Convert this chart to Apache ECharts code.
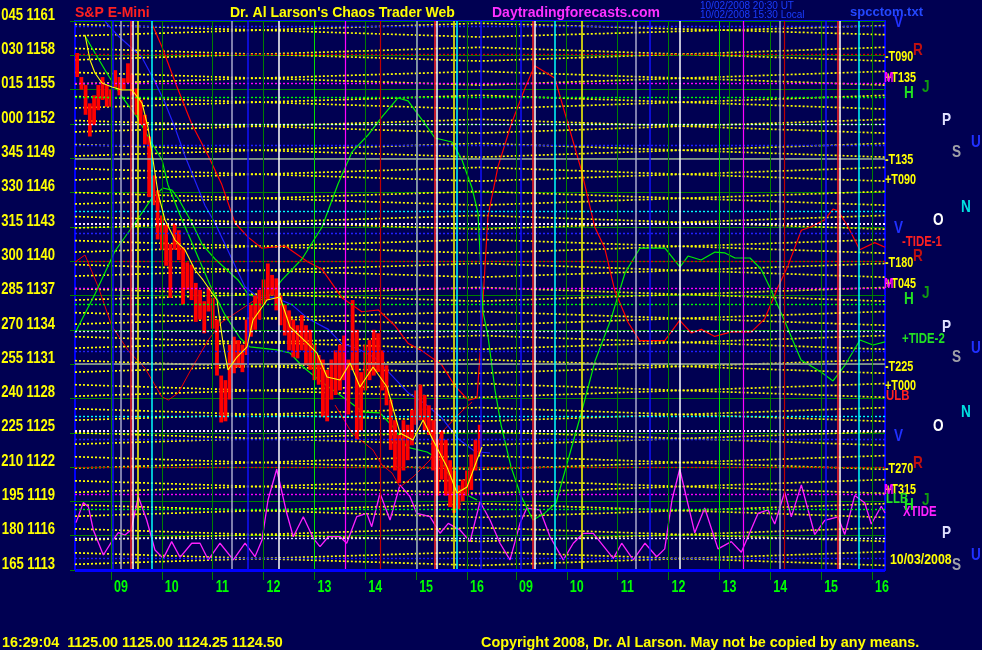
<!DOCTYPE html>
<html><head><meta charset="utf-8">
<script src="https://cdn.jsdelivr.net/npm/echarts@6/dist/echarts.min.js"></script>
<style>html,body{margin:0;padding:0;background:#000052;}#c{width:982px;height:650px;}</style>
</head><body><div id="c"></div>
<script>
// ---------- axis data ----------
const X_MIN = 8.292, X_MAX = 24.218, DAY2 = 7.963, T_MID = 16.255;
const sessionHours = [9,10,11,12,13,14,15,16];
const xTickLabels = ['09','10','11','12','13','14','15','16','09','10','11','12','13','14','15','16'];
const yTickPrices = [1161,1158,1155,1152,1149,1146,1143,1140,1137,1134,1131,1128,1125,1122,1119,1116,1113];
const yTickDegrees = ['045','030','015','000','345','330','315','300','285','270','255','240','225','210','195','180','165'];

// ---------- price bars (5 min, from 08:20 day 1) ----------
const barStartHour = 8 + 20/60, barStepHour = 5/60;
const barHigh = [1158.2,1156.1,1155.4,1153.8,1154.5,1155.4,1156.1,1155.4,1155.0,1156.7,1156.1,1156.0,1157.3,1156.3,1155.1,1154.1,1152.8,1150.9,1147.5,1146.2,1144.0,1143.2,1141.5,1143.3,1142.7,1141.2,1139.9,1139.7,1138.1,1137.5,1136.5,1137.7,1136.8,1134.9,1130.0,1129.6,1132.7,1133.4,1133.1,1132.7,1134.9,1136.2,1137.0,1137.5,1138.4,1139.8,1138.8,1138.5,1137.0,1136.2,1135.7,1134.9,1134.4,1135.3,1134.4,1134.0,1132.7,1131.8,1131.4,1130.5,1131.4,1132.2,1132.7,1133.5,1131.4,1136.6,1134.0,1130.3,1132.7,1133.1,1134.0,1133.7,1132.2,1130.9,1127.9,1126.1,1124.8,1126.1,1125.7,1127.0,1128.7,1129.2,1128.3,1127.4,1126.1,1124.4,1125.2,1124.4,1122.6,1121.7,1120.4,1120.9,1121.7,1123.1,1124.4,1125.7];
const barLow  = [1156.1,1155.0,1152.8,1150.9,1151.9,1153.2,1154.1,1153.5,1153.5,1155.2,1154.5,1155.0,1155.6,1154.5,1152.8,1151.9,1150.2,1145.6,1144.9,1141.9,1141.0,1139.6,1136.8,1141.0,1140.1,1136.2,1137.5,1136.6,1134.7,1134.9,1133.7,1135.6,1134.1,1130.0,1125.9,1126.0,1127.9,1130.2,1130.7,1130.3,1131.8,1133.4,1134.0,1134.9,1136.2,1136.6,1137.0,1135.7,1134.4,1133.5,1132.2,1131.6,1131.5,1132.2,1130.9,1130.5,1129.6,1129.2,1126.4,1126.0,1127.9,1128.3,1128.7,1129.6,1126.6,1130.5,1124.4,1125.2,1128.7,1129.6,1130.0,1130.3,1128.7,1127.4,1123.5,1121.7,1120.6,1121.7,1122.6,1123.9,1125.7,1126.1,1125.2,1124.8,1121.7,1119.5,1120.9,1119.5,1118.5,1118.0,1118.3,1119.0,1119.5,1120.0,1121.7,1123.1];

// ---------- curves [hour, price] ----------
const tide1 = [[9.800,1160.8],[9.997,1158.79],[10.258,1155.69],[10.587,1152.0],[10.913,1149.2],[11.177,1146.72],[11.438,1143.34],[11.700,1142.08],[11.963,1141.15],[12.421,1141.33],[12.873,1139.93],[13.143,1139.32],[13.536,1136.83],[13.929,1135.58],[14.256,1135.73],[14.584,1134.35],[14.846,1132.80],[15.109,1132.18],[15.502,1130.94],[15.764,1129.09],[16.025,1127.85],[16.196,1128.04],[16.275,1133.1],[16.314,1136.6],[16.412,1143.95],[16.609,1148.27],[16.871,1152.0],[17.134,1155.07],[17.331,1157.08],[17.724,1156.02],[17.986,1152.0],[18.247,1147.97],[18.511,1143.0],[18.707,1141.15],[18.904,1137.44],[19.165,1134.66],[19.395,1133.05],[19.887,1133.05],[20.182,1134.82],[20.410,1133.72],[20.607,1134.04],[20.870,1133.42],[21.196,1133.82],[21.590,1133.82],[21.853,1134.96],[22.115,1137.74],[22.311,1139.61],[22.573,1142.70],[22.769,1143.01],[23.033,1143.63],[23.196,1144.56],[23.294,1144.41],[23.491,1143.01],[23.721,1141.0],[24.016,1141.62],[24.218,1141.22]];
const redWaveLeft = [[8.292,1139.93],[8.489,1140.54],[8.750,1137.74],[9.014,1134.35],[9.340,1132.18],[9.669,1130.64],[9.997,1128.16],[10.127,1127.86],[10.323,1128.48],[10.587,1130.64],[10.913,1133.11],[11.177,1134.66],[11.536,1135.73],[11.831,1136.61]];
const redWaveLow = [[13.404,1127.43],[13.738,1124.98],[14.151,1123.49],[14.328,1122.18],[14.525,1121.48],[14.682,1120.26],[14.938,1121.13],[15.272,1122.62],[15.508,1125.07],[15.901,1126.90],[16.098,1127.69]];
const tide2 = [[8.292,1133.72],[8.685,1137.13],[9.079,1140.89],[9.472,1143.34],[9.806,1145.52],[10.022,1146.40],[10.199,1146.22],[10.317,1145.52],[10.593,1143.34],[10.789,1141.50],[11.045,1140.19],[11.497,1138.36],[11.694,1137.13],[12.028,1136.52],[12.362,1138.36],[12.755,1140.19],[13.149,1142.99],[13.463,1146.75],[13.739,1149.55],[14.053,1151.03],[14.328,1152.61],[14.643,1154.27],[14.840,1154.01],[15.174,1152.0],[15.370,1150.77],[15.705,1150.42],[15.901,1148.85],[16.098,1146.40],[16.216,1144.21],[16.314,1135.56],[16.412,1133.46],[16.550,1128.74],[16.668,1125.68],[16.865,1122.01],[17.062,1119.47],[17.297,1117.37],[17.533,1117.99],[17.750,1118.86],[17.986,1122.62],[18.241,1126.64],[18.517,1131.27],[18.831,1134.95],[19.106,1138.97],[19.401,1141.15],[19.893,1141.15],[20.188,1139.49],[20.345,1140.45],[20.601,1140.10],[20.876,1140.80],[21.073,1140.72],[21.269,1140.28],[21.564,1140.28],[21.780,1139.32],[21.977,1137.48],[22.253,1134.68],[22.567,1131.36],[22.960,1130.31],[23.196,1129.53],[23.432,1130.92],[23.727,1133.11],[23.983,1132.67],[24.218,1132.94]];
const greenSlow = [[8.489,1159.69],[8.685,1158.20],[8.941,1156.28],[9.216,1154.36],[9.511,1152.61],[9.767,1150.60],[10.003,1148.85],[10.121,1146.66],[10.357,1144.04],[10.652,1140.98],[10.947,1137.92],[11.241,1135.30],[11.536,1133.28],[11.733,1132.50],[12.264,1132.24],[12.519,1131.97],[12.775,1130.75],[13.168,1129.35],[13.640,1127.86],[13.955,1126.81],[14.289,1126.73],[14.545,1125.50],[14.820,1123.75],[15.213,1123.32],[15.469,1122.62],[15.666,1121.13],[15.921,1119.73],[16.196,1119.12]];
const blueWave = [[8.882,1160.96],[9.138,1159.71],[9.604,1157.85],[9.865,1155.69],[10.062,1153.83],[10.258,1151.67],[10.455,1149.20],[10.652,1147.03],[10.848,1144.87],[11.045,1143.34],[11.373,1140.23],[11.635,1137.74],[11.896,1136.83],[12.225,1136.83],[12.553,1136.20],[12.879,1134.96],[13.273,1134.04],[13.536,1132.80],[13.862,1132.33],[14.191,1131.56],[14.519,1130.01],[14.846,1128.48],[15.174,1127.54],[15.502,1126.31],[15.829,1124.45],[16.157,1123.36],[16.452,1123.23]];
const yellowFast = [[8.489,1159.78],[8.587,1157.59],[8.685,1156.45],[8.823,1155.58],[9.020,1155.23],[9.216,1154.97],[9.413,1154.97],[9.610,1153.83],[9.727,1151.73],[9.865,1147.71],[9.924,1145.96],[10.062,1143.60],[10.258,1141.85],[10.455,1140.98],[10.652,1139.23],[10.809,1138.36],[11.084,1136.61],[11.202,1132.85],[11.300,1130.49],[11.477,1131.62],[11.674,1132.50],[11.792,1134.86],[12.067,1136.61],[12.323,1136.87],[12.519,1134.25],[12.854,1132.85],[13.050,1131.97],[13.247,1129.87],[13.503,1129.61],[13.699,1131.10],[13.896,1129.0],[14.152,1130.75],[14.427,1129.0],[14.682,1124.98],[14.938,1124.37],[15.135,1126.12],[15.331,1124.37],[15.606,1122.01],[15.803,1119.73],[16.0,1120.26],[16.196,1122.62],[16.295,1123.75]];
const xtide = [[8.312,1117.14],[8.455,1118.89],[8.554,1118.54],[8.652,1116.50],[8.849,1114.31],[9.014,1115.48],[9.144,1116.26],[9.275,1116.06],[9.393,1116.50],[9.537,1119.41],[9.702,1117.37],[9.865,1114.75],[10.028,1114.02],[10.193,1115.48],[10.357,1114.11],[10.587,1115.34],[10.750,1115.34],[10.913,1113.88],[11.143,1115.34],[11.405,1113.88],[11.635,1115.34],[11.831,1114.16],[11.969,1115.62],[12.087,1119.12],[12.258,1121.81],[12.455,1117.96],[12.584,1115.91],[12.781,1117.66],[12.978,1115.77],[13.109,1115.04],[13.273,1115.91],[13.503,1115.91],[13.634,1115.34],[13.831,1117.66],[14.028,1117.96],[14.126,1116.79],[14.289,1119.71],[14.486,1117.37],[14.682,1120.44],[14.879,1119.41],[15.011,1117.96],[15.272,1117.66],[15.469,1116.21],[15.632,1117.08],[15.862,1116.50],[16.059,1115.48],[16.255,1118.97],[16.452,1117.37],[16.648,1115.34],[16.845,1113.88],[17.042,1117.08],[17.173,1118.40],[17.435,1118.25],[17.632,1115.91],[17.893,1113.88],[18.090,1115.34],[18.287,1116.21],[18.483,1116.21],[18.876,1114.02],[19.041,1115.34],[19.269,1113.88],[19.499,1115.34],[19.729,1114.16],[19.887,1114.85],[20.030,1119.12],[20.182,1121.83],[20.477,1116.25],[20.673,1118.42],[20.935,1114.85],[21.196,1115.48],[21.393,1114.55],[21.721,1117.95],[21.918,1118.25],[22.050,1117.02],[22.246,1119.82],[22.376,1117.64],[22.573,1120.44],[22.836,1116.10],[23.033,1117.33],[23.294,1117.64],[23.426,1116.10],[23.622,1119.51],[23.819,1118.88],[23.949,1117.02],[24.145,1118.57],[24.218,1117.98]];

// ---------- T lines: price at start, day-1 close, end ----------
const tLines = [[1160.7,1159.6,1160.6],[1159.7,1160.8,1159.8],[1158.6,1157.5,1158.7],[1157.6,1158.7,1157.5],[1156.5,1155.4,1156.6],[1155.5,1156.6,1155.4],[1154.4,1153.3,1154.5],[1153.4,1154.5,1153.3],[1152.3,1151.2,1152.4],[1151.3,1152.4,1151.2],[1150.2,1149.1,1150.3],[1149.2,1150.3,1149.1],[1148.1,1147.0,1148.2],[1147.1,1148.2,1147.0],[1146.0,1144.9,1146.1],[1145.0,1146.1,1144.9],[1143.9,1142.8,1144.0],[1142.9,1144.0,1142.8],[1141.8,1140.7,1141.9],[1140.8,1141.9,1140.7],[1139.7,1138.6,1139.8],[1138.7,1139.8,1138.6],[1137.6,1136.5,1137.7],[1136.6,1137.7,1136.5],[1135.5,1134.4,1135.6],[1134.5,1135.6,1134.4],[1133.4,1132.3,1133.5],[1132.4,1133.5,1132.3],[1131.3,1130.2,1131.4],[1130.3,1131.4,1130.2],[1129.2,1128.1,1129.3],[1128.2,1129.3,1128.1],[1127.1,1126.0,1127.2],[1126.1,1127.2,1126.0],[1125.0,1123.9,1125.1],[1124.0,1125.1,1123.9],[1122.9,1121.8,1123.0],[1121.9,1123.0,1121.8],[1120.8,1119.7,1120.9],[1119.8,1120.9,1119.7],[1118.7,1117.6,1118.8],[1117.7,1118.8,1117.6],[1116.6,1115.5,1116.7],[1115.6,1116.7,1115.5],[1114.5,1113.4,1114.6],[1113.5,1114.6,1113.4]];

// ---------- planet price levels ----------
const levelV = [1160.5,1142.4,1124.4];
const levelR = [1158.1,1140.0,1122.0];
const levelM = [1155.6,1137.6,1119.6];
const levelH = [1154.3,1136.2,1118.3];
const levelP = [1152.0,1133.9,1115.8];
const levelU = [1150.1,1132.1,1114.0];
const levelS = [1149.0,1131.0];
const levelN = [1144.4,1126.4];
const levelO = [1143.3,1125.2];

// ---------- vertical time lines (hours, day 2 offset) ----------
const vBlue = [9.045,11.680,16.275,17.056,19.604,23.052];
const vGray = [9.197,11.385,15.011,19.309,22.148];
const vRedBright = [9.393,15.370,17.297,23.294];
const vRedDark = [14.289,22.233];
const vWhite = [9.433,12.289,15.410,17.337,20.182,23.333];
const vYellow = [9.517,15.730,18.255];
const vCyan = [9.812,15.797,17.724,23.701];
const vMagenta = [13.601,21.440];
const vGreenBright = [13, 20.963];
const vGreenExtra = [21.165];

// ---------- in-plot labels [text, hour, price] ----------
const lblYellow = [['T 90',9.727,1156.7],['T 0',15.92,1156.7],['T 90',18.477,1156.7],['L',16.61,1124.6],['10/02',12.578,1113.9],['10/03',20.54,1113.9]];
const lblWhite = [['O',9.486,1147.1],['O',15.469,1147.1],['O',17.415,1147.1],['O',23.392,1147.1],['P',12.356,1142.3],['P',20.26,1142.3],['A',12.388,1137.2]];
const lblRed = [['C',9.505,1144.65],['C',15.48,1144.65],['C',17.43,1144.65],['C',23.406,1144.65]];
const lblDarkRed = [['R',14.387,1130.2],['R',22.311,1130.2]];
const lblCyan = [['N',9.898,1139.9],['N',15.876,1139.9],['N',17.80,1139.9],['N',23.785,1139.9]];
const lblBlue = [['U',11.753,1137.4],['U',19.676,1137.4],['U',15.14,1125.4],['V',9.079,1125.4],['V',17.12,1125.4],['V',23.10,1125.4]];
const lblGray = [['S',11.471,1135.0],['S',19.395,1135.0]];
const lblDarkGreen = [['J',13.339,1132.65],['J',21.216,1132.65]];
const lblGreen = [['H',13.09,1127.85],['H',21.05,1127.85]];
const lblMagenta = [['M',13.699,1123.0],['M',21.52,1123.0]];

// ---------- texts ----------
const titleParts = ['S&P E-Mini', "Dr. Al Larson's Chaos Trader Web", 'Daytradingforecasts.com'];
const stampLines = ['10/02/2008 20:30 UT', '10/02/2008 15:30 Local'];
const fileName = 'spcctom.txt';
const quoteLine = '16:29:04  1125.00 1125.00 1124.25 1124.50';
const copyrightLine = 'Copyright 2008, Dr. Al Larson. May not be copied by any means.';
const rightTags = ['-T090','+T135','-T135','+T090','-TIDE-1','-T180','+T045','+TIDE-2','-T225','+T000','ULB','-T270','+T315','LLB','XTIDE','10/03/2008'];

// =============== build ===============
const SANS = "'Liberation Sans',Arial,sans-serif";
const xTickVals = sessionHours.concat(sessionHours.map(h => h + DAY2));

const series = [];
tLines.forEach(l => series.push({
  type:'line', data:[[X_MIN,l[0]],[T_MID,l[1]],[X_MAX,l[2]]], showSymbol:false, silent:true, z:1,
  lineStyle:{color:'#ffff00', width:1.7, type:[2,2]}, animation:false
}));

const ml = [];
const hLine = (vals, st) => vals.forEach(v => ml.push({yAxis:v, lineStyle:st}));
const vLine = (vals, st) => vals.forEach(v => ml.push({xAxis:v, lineStyle:st}));
hLine(levelV, {color:'#2020ff', width:1.4, type:[2,2]});
hLine(levelU, {color:'#2020ff', width:1.4, type:[2,2]});
hLine(levelR, {color:'#e00000', width:1.4, type:[2,2]});
hLine(levelM, {color:'#ff00ff', width:1.4, type:[2,2]});
hLine(levelH, {color:'#00ff00', width:1.4, type:[2,2]});
hLine(levelP, {color:'#e8e8ff', width:1.4, type:[2,2]});
hLine(levelS, {color:'#a0a0a8', width:1.5, type:'solid'});
hLine(levelN, {color:'#00ffff', width:1.4, type:[2,2]});
hLine(levelO, {color:'#ffe8ff', width:2, type:[2,2]});
vLine(xTickVals, {color:'#008000', width:1, type:'solid'});
vLine(vGreenBright, {color:'#00e000', width:1, type:'solid'});
vLine(vGreenExtra, {color:'#008000', width:1, type:'solid'});
vLine(vBlue, {color:'#1010ff', width:1.5, type:'solid'});
vLine(vGray, {color:'#a8a8cc', width:1.5, type:'solid'});
vLine(vRedBright, {color:'#ff2020', width:1.5, type:'solid'});
vLine(vRedDark, {color:'#c00000', width:1.2, type:'solid'});
vLine(vWhite, {color:'#ffffff', width:1.5, type:'solid'});
vLine(vYellow, {color:'#ffff00', width:1.5, type:'solid'});
vLine(vCyan, {color:'#00ffff', width:1.5, type:'solid'});
vLine(vMagenta, {color:'#ff00ff', width:1.2, type:'solid'});
ml.push({xAxis:X_MAX, lineStyle:{color:'#0000ff', width:3, type:'solid'}});
ml.push({yAxis:1113, lineStyle:{color:'#0000ff', width:3, type:'solid'}});
series.push({type:'line', data:[[X_MIN,1113]], showSymbol:false, lineStyle:{opacity:0}, z:2, silent:true, animation:false,
  markLine:{silent:true, symbol:['none','none'], label:{show:false}, animation:false, data:ml}});

const curve = (data, color, width, z) => series.push({type:'line', data, showSymbol:false, silent:true, z:z || 3, animation:false, lineStyle:{color, width}});
curve(xtide, '#ff20ff', 1.3);
curve(redWaveLeft, '#ee0000', 1);
curve(redWaveLow, '#ee0000', 1);
curve(tide1, '#ff0000', 1.2);
curve(blueWave, '#2020ff', 1.2);
curve(tide2, '#00ee00', 1.2);
curve(greenSlow, '#00ee00', 1.2);

const bars = barHigh.map((h, i) => [barStartHour + i * barStepHour, barLow[i], h]);
series.push({type:'custom', z:4, silent:true, animation:false, data:bars, encode:{x:0, y:[1,2]},
  renderItem:(params, api) => {
    const x = api.value(0);
    const a = api.coord([x, api.value(2)]);
    const b = api.coord([x, api.value(1)]);
    return {type:'rect', shape:{x:a[0]-1.9, y:a[1], width:3.8, height:Math.max(b[1]-a[1], 1.5)}, style:{fill:'#ff0000'}};
  }});
curve(yellowFast, '#ffff00', 1.1, 5);

const labelSeries = (list, color, size) => series.push({type:'scatter', z:6, silent:true, animation:false, symbolSize:1,
  itemStyle:{opacity:0},
  data:list.map(l => ({value:[l[1], l[2]], name:l[0]})),
  label:{show:true, position:'inside', formatter:p => p.name, color, fontFamily:SANS, fontWeight:'bold', fontSize:size}});
labelSeries(lblYellow, '#ffff00', 14);
labelSeries(lblWhite, '#ffffff', 14);
labelSeries(lblRed, '#ff2020', 13);
labelSeries(lblDarkRed, '#c01818', 13);
labelSeries(lblCyan, '#00e8e8', 13);
labelSeries(lblBlue, '#2040ff', 13);
labelSeries(lblGray, '#a0a0a8', 13);
labelSeries(lblDarkGreen, '#109a10', 13);
labelSeries(lblGreen, '#20e020', 14);
labelSeries(lblMagenta, '#ff20ff', 14);

const chart = echarts.init(document.getElementById('c'));
chart.setOption({
  backgroundColor:'#000052',
  animation:false,
  grid:{left:75, right:97, top:21, bottom:80, show:true, borderColor:'#0000ff', borderWidth:2, containLabel:false, outerBoundsMode:'none'},
  xAxis:{type:'value', min:X_MIN, max:X_MAX, axisLine:{show:false}, splitLine:{show:false},
    axisTick:{show:true, customValues:xTickVals, length:10, lineStyle:{color:'#008000'}},
    axisLabel:{show:false}},
  yAxis:{type:'value', min:1113, max:1161, interval:3, axisLine:{show:false},
    axisTick:{show:true, length:5, lineStyle:{color:'#008000'}},
    splitLine:{show:true, lineStyle:{color:'#008000', width:1}},
    axisLabel:{show:false}},
  series
});

// ---------- text layer (tick labels placed through the axes) ----------
const graphic = [];
const txt = (text, x, y, fill, font, align, sx) => graphic.push({type:'text', x, y, scaleX: sx || 1, silent:true, z:10,
  style:{text, x:0, y:0, fill, font, align: align || 'left', verticalAlign:'middle', textAlign: align || 'left', textVerticalAlign:'middle'}});
yTickPrices.forEach((p, i) => {
  const pt = chart.convertToPixel({gridIndex:0}, [X_MIN, p]);
  txt(yTickDegrees[i] + ' ' + p, pt[0] - 20, pt[1] - 6, '#ffff00', 'bold 17px ' + SANS, 'right', 0.77);
});
xTickVals.forEach((v, i) => {
  const pt = chart.convertToPixel({gridIndex:0}, [v, 1113]);
  txt(xTickLabels[i], pt[0] + 3, pt[1] + 18, '#00ff00', 'bold 16px ' + SANS, 'left', 0.78);
});
const TF = 'bold 14px ' + SANS;
txt(titleParts[0], 75, 13, '#ff2020', TF);
txt(titleParts[1], 230, 13, '#ffff00', TF);
txt(titleParts[2], 492, 13, '#ff30ff', TF);
txt(stampLines[0], 700, 6, '#1a3cff', '10px ' + SANS);
txt(stampLines[1], 700, 15, '#1a3cff', '10px ' + SANS);
txt(fileName, 850, 12, '#2448ff', 'bold 13px ' + SANS);
txt(quoteLine, 2, 643, '#ffff00', 'bold 14.3px ' + SANS);
txt(copyrightLine, 481, 643, '#ffff00', 'bold 14.4px ' + SANS);

const RF = 'bold 15px ' + SANS;
const tagPos = [[885,57],[885,78],[885,160],[885,180],[902,242],[885,263],[885,284],[902,339],[885,367],[885,386],[886,396],[885,469],[885,490],[886,499],[903,512],[890,560]];
const tagCol = ['#ffff00','#ffff00','#ffff00','#ffff00','#ff2020','#ffff00','#ffff00','#22e022','#ffff00','#ffff00','#ff2020','#ffff00','#ffff00','#22e022','#ff20ff','#ffff00'];
const tagScale = [0.72,0.72,0.72,0.72,0.76,0.72,0.72,0.76,0.72,0.72,0.76,0.72,0.72,0.76,0.76,0.82];
rightTags.forEach((t, i) => txt(t, tagPos[i][0], tagPos[i][1], tagCol[i], RF, 'left', tagScale[i]));
[78, 284, 490].forEach(y => txt('M', 884, y, '#ff00ff', RF, 'left', 0.76));

const sideLetters = ['V','R','J','H','P','U','S','N','O'];
const sidePos = {V:[894,[22,228,436]], R:[913,[50,256,463]], J:[922,[87,293,500]], H:[904,[93,299,505]], P:[942,[120,327,533]], U:[971,[142,348,555]], S:[952,[152,357,565]], N:[961,[207,412]], O:[933,[220,426]]};
const sideCol = {V:'#2030ff', R:'#c01010', J:'#109a10', H:'#22e022', P:'#e0e0ff', U:'#2030ff', S:'#a0a0a8', N:'#00e0e0', O:'#ffffff'};
sideLetters.forEach(k => sidePos[k][1].forEach(y => txt(k, sidePos[k][0], y, sideCol[k], 'bold 17px ' + SANS, 'left', 0.8)));

chart.setOption({graphic});
</script></body></html>
